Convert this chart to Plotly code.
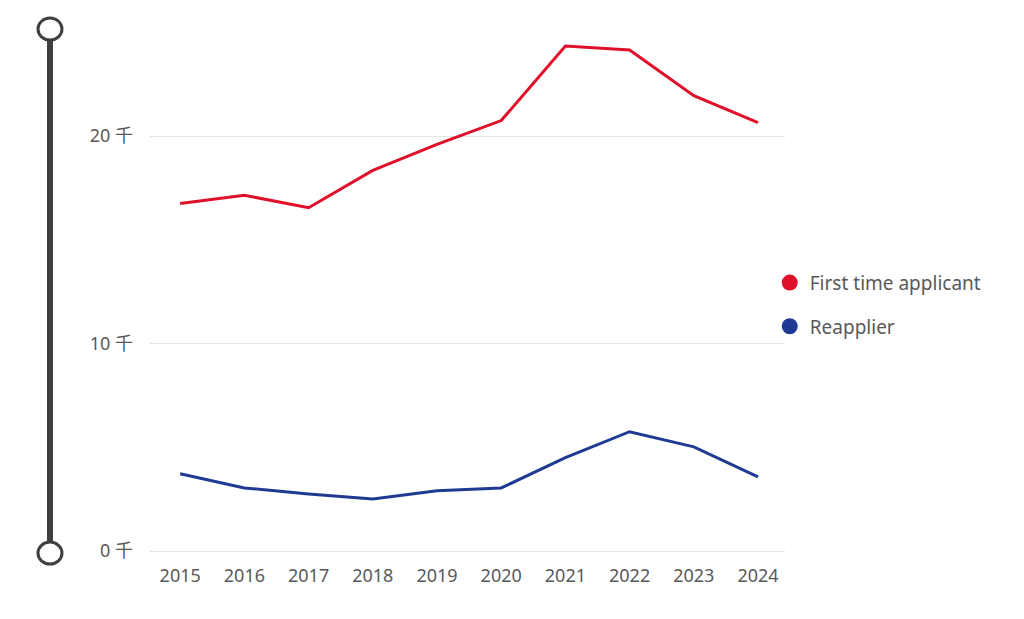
import plotly.graph_objects as go

# Applicants per year (thousands)
years = [2015, 2016, 2017, 2018, 2019, 2020, 2021, 2022, 2023, 2024]
first_time = [16.75, 17.15, 16.55, 18.35, 19.6, 20.75, 24.35, 24.15, 21.95, 20.65]
reapplier = [3.72, 3.04, 2.75, 2.51, 2.9, 3.04, 4.5, 5.75, 5.02, 3.57]
y_ticks = [0, 10, 20]
y_labels = ["0 千", "10 千", "20 千"]

red = "#e0102b"
blue = "#1f3a93"
grey_text = "#595959"
font_family = "Noto Sans, Noto Sans CJK SC"

fig = go.Figure()
fig.add_trace(go.Scatter(x=years, y=first_time, mode="lines", line=dict(color=red, width=3),
                         showlegend=False))
fig.add_trace(go.Scatter(x=years, y=reapplier, mode="lines", line=dict(color=blue, width=3),
                         showlegend=False))

# legend entries shown as dots
fig.add_trace(go.Scatter(x=[None], y=[None], mode="markers", name="First time applicant",
                         marker=dict(color=red, size=19), legendgroup="a"))
fig.add_trace(go.Scatter(x=[None], y=[None], mode="markers", name="Reapplier",
                         marker=dict(color=blue, size=19), legendgroup="b"))

# slider-like bar on the left
slider_x = -0.1575
top_y, bottom_y = 0.983, -0.004
fig.add_shape(type="line", xref="paper", yref="paper", x0=slider_x, x1=slider_x,
              y0=bottom_y, y1=top_y, line=dict(color="#3f3f3f", width=6))
for yc in [top_y, bottom_y]:
    fig.add_shape(type="circle", xref="paper", yref="paper", xsizemode="pixel", ysizemode="pixel",
                  xanchor=slider_x, yanchor=yc, x0=-12, x1=12, y0=-11, y1=11,
                  fillcolor="white", line=dict(color="#3f3f3f", width=3))

fig.update_layout(
    width=1024, height=619,
    margin=dict(l=142, r=247, t=12, b=76),
    paper_bgcolor="white", plot_bgcolor="white",
    font=dict(family=font_family, size=16, color=grey_text),
    legend=dict(x=0.976, xanchor="left", y=0.541, yanchor="top", tracegroupgap=16,
                font=dict(size=19, color=grey_text), itemwidth=30, bgcolor="rgba(0,0,0,0)"),
)
fig.update_xaxes(range=[2014.53, 2024.42], tickvals=years, showgrid=False,
                 showline=False, zeroline=False, ticks="", ticklabelstandoff=12,
                 tickfont=dict(size=18, color=grey_text))
fig.update_yaxes(range=[0, 25.6], tickvals=y_ticks, ticktext=y_labels,
                 showgrid=True, gridcolor="#e3e3e3", gridwidth=1,
                 zeroline=True, zerolinecolor="#e3e3e3", zerolinewidth=1,
                 ticks="", ticklabelstandoff=16,
                 tickfont=dict(size=18, color=grey_text))

fig.write_html("out.html")
